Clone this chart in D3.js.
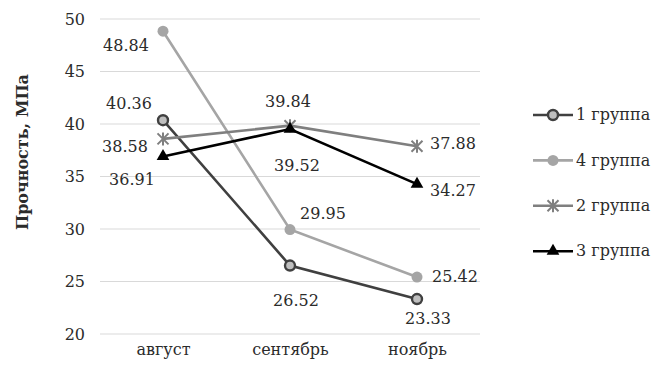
<!DOCTYPE html>
<html>
<head>
<meta charset="utf-8">
<script src="https://cdn.jsdelivr.net/npm/d3@7/dist/d3.min.js"></script>
<style>
  html, body { margin: 0; padding: 0; background: #fff; }
</style>
</head>
<body>
<svg id="chart" width="653" height="376"></svg>
<script>
// Months on the x axis
const months = ["август", "сентябрь", "ноябрь"];
// Strength per group, MPa
const group1 = [40.36, 26.52, 23.33];
const group4 = [48.84, 29.95, 25.42];
const group2 = [38.58, 39.84, 37.88];
const group3 = [36.91, 39.52, 34.27];
const seriesNames = ["1 группа", "4 группа", "2 группа", "3 группа"];
const yTicks = [20, 25, 30, 35, 40, 45, 50];

const FONT = "'DejaVu Serif', serif";
const TEXT = "#2b2b2b";
const FS = 16;

const series = [
  { name: seriesNames[0], values: group1, color: "#404040", marker: "ring",
    offsets: [[-34, -17], [6, 35], [11, 19]] },
  { name: seriesNames[1], values: group4, color: "#a5a5a5", marker: "dot",
    offsets: [[-37, 14], [33, -16], [38, -1]] },
  { name: seriesNames[2], values: group2, color: "#7f7f7f", marker: "cross",
    offsets: [[-38, 7], [-2, -24], [36, -3]] },
  { name: seriesNames[3], values: group3, color: "#000000", marker: "tri",
    offsets: [[-31, 23], [7, 36], [36, 6]] }
];

const svg = d3.select("#chart").style("font-family", FONT);

const x = d3.scalePoint().domain(months).range([163, 417]);
const y = d3.scaleLinear().domain([20, 50]).range([334, 19]);

// Horizontal gridlines
svg.append("g").selectAll("line").data(yTicks).join("line")
  .attr("x1", 100).attr("x2", 480)
  .attr("y1", d => y(d)).attr("y2", d => y(d))
  .attr("stroke", "#d9d9d9").attr("stroke-width", 1.2);

// Y axis tick labels
const yAxis = d3.axisLeft(y).tickValues(yTicks).tickSize(0).tickPadding(0);
svg.append("g").attr("transform", "translate(85,0)").call(yAxis)
  .attr("font-family", FONT)
  .call(g => g.select(".domain").remove())
  .call(g => g.selectAll("text")
    .style("font-family", FONT)
    .attr("font-size", FS).attr("fill", TEXT));

// X axis category labels
const xAxis = d3.axisBottom(x).tickSize(0).tickPadding(0);
svg.append("g").attr("transform", "translate(0,344)").call(xAxis)
  .attr("font-family", FONT)
  .call(g => g.select(".domain").remove())
  .call(g => g.selectAll("text")
    .style("font-family", FONT)
    .attr("font-size", FS).attr("fill", TEXT));

// Y axis title
svg.append("text")
  .attr("transform", "translate(28,152) rotate(-90)")
  .attr("text-anchor", "middle")
  .style("font-family", FONT)
  .attr("font-size", FS).attr("font-weight", "bold").attr("fill", TEXT)
  .text("Прочность, МПа");

function drawMarker(g, type, color, cx, cy) {
  if (type === "ring") {
    g.append("circle").attr("cx", cx).attr("cy", cy).attr("r", 5)
      .attr("fill", "#bfbfbf").attr("stroke", color).attr("stroke-width", 2.4);
  } else if (type === "dot") {
    g.append("circle").attr("cx", cx).attr("cy", cy).attr("r", 5.5)
      .attr("fill", color);
  } else if (type === "cross") {
    const s = 5.5;
    g.append("path")
      .attr("d", `M${cx - s},${cy - s}L${cx + s},${cy + s}M${cx - s},${cy + s}L${cx + s},${cy - s}M${cx},${cy - s - 1}L${cx},${cy + s + 1}`)
      .attr("stroke", color).attr("stroke-width", 2).attr("fill", "none");
  } else if (type === "tri") {
    g.append("path")
      .attr("d", d3.symbol().type(d3.symbolTriangle).size(70)())
      .attr("transform", `translate(${cx},${cy})`)
      .attr("fill", color);
  }
}

const line = d3.line().x((d, i) => x(months[i])).y(d => y(d));

series.forEach(s => {
  const g = svg.append("g");
  g.append("path").datum(s.values).attr("d", line)
    .attr("fill", "none").attr("stroke", s.color).attr("stroke-width", 2.6);
  s.values.forEach((v, i) => drawMarker(g, s.marker, s.color, x(months[i]), y(v)));
});

// Data labels
series.forEach(s => {
  s.values.forEach((v, i) => {
    svg.append("text")
      .attr("x", x(months[i]) + s.offsets[i][0])
      .attr("y", y(v) + s.offsets[i][1])
      .attr("dy", "0.35em")
      .attr("text-anchor", "middle")
      .style("font-family", FONT)
      .attr("font-size", FS).attr("fill", TEXT)
      .text(v.toFixed(2));
  });
});

// Legend
const legend = svg.append("g");
series.forEach((s, i) => {
  const ly = 115 + i * 45.4;
  legend.append("line").attr("x1", 533).attr("x2", 573)
    .attr("y1", ly).attr("y2", ly)
    .attr("stroke", s.color).attr("stroke-width", 2.6);
  drawMarker(legend, s.marker, s.color, 553, ly);
  legend.append("text").attr("x", 576).attr("y", ly).attr("dy", "0.33em")
    .style("font-family", FONT)
    .attr("font-size", FS).attr("fill", TEXT)
    .text(s.name);
});
</script>
</body>
</html>
